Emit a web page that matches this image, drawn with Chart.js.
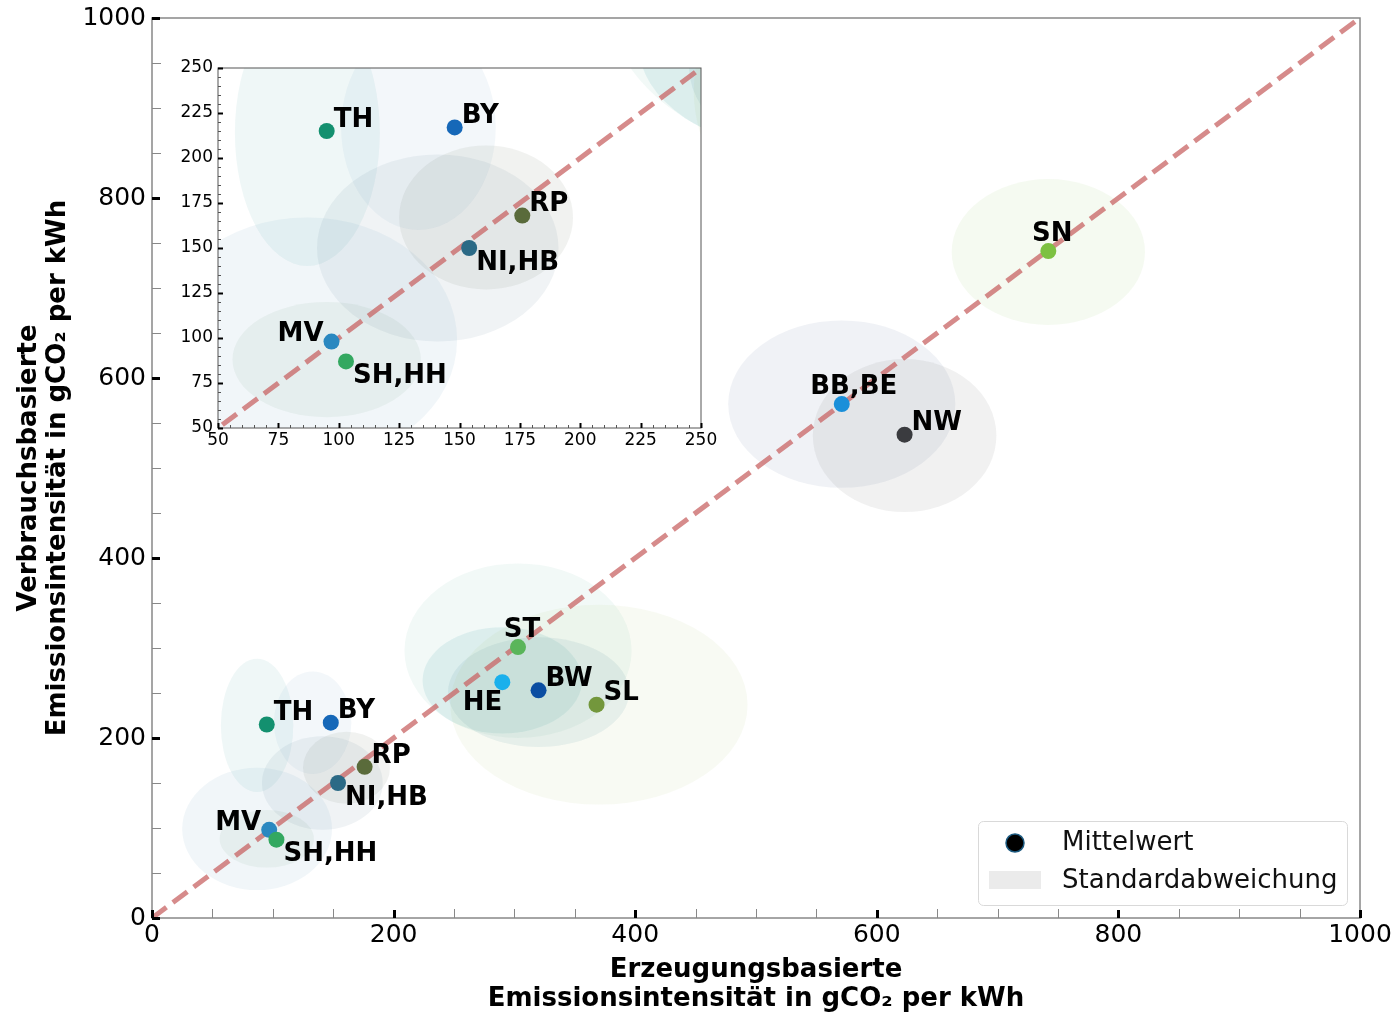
<!DOCTYPE html>
<html>
<head>
<meta charset="utf-8">
<script src="https://cdn.jsdelivr.net/npm/chart.js@4.4.1/dist/chart.umd.min.js"></script>
<style>
  html, body { margin: 0; padding: 0; background: #fff; }
  #wrap { position: relative; width: 1399px; height: 1015px; }
  #main { position: absolute; left: 0; top: 0; }
  #inset { position: absolute; left: 165px; top: 40px; }
</style>
</head>
<body>
<div id="wrap">
  <canvas id="main" width="1399" height="1015"></canvas>
  <canvas id="inset" width="575" height="420"></canvas>
</div>
<script>
// regions (Bundeslaender) and their mean intensities, gCO2 per kWh
const regions  = ['TH', 'BY', 'RP', 'NI,HB', 'MV', 'SH,HH', 'ST', 'HE', 'BW', 'SL', 'BB,BE', 'NW', 'SN'];
const prodMean = [95, 148, 176, 154, 97, 103, 303, 290, 320, 368, 571, 623, 742];
const consMean = [215, 217, 168, 150, 98, 87, 301, 262, 253, 237, 571, 537, 741];

// standard deviation ellipses: centre and half widths
const stdCenterX = [87, 133, 161, 141, 87, 95, 303, 290, 320, 370, 571, 623, 742];
const stdCenterY = [214, 217, 167, 150, 99, 88, 297, 264, 251, 237, 571, 536, 740];
const stdX = [30, 32, 36, 50, 62, 39, 94, 66, 75, 123, 94, 76, 80];
const stdY = [74, 57, 40, 52, 68, 32, 97, 59, 61, 111, 93, 85, 81];

// diagonal y = x
const diagX = [0, 1000];
const diagY = [0, 1000];

const pointColors = ['#13906f', '#1668b8', '#5a6b3b', '#2b6a86', '#2a88c0', '#33a860', '#5ab55a',
                     '#1ab0ec', '#0b4ea2', '#73973c', '#1a8fd9', '#3a3b3f', '#7dc142'];
const ellipseColors = ['rgba(30,140,140,0.07)', 'rgba(80,140,180,0.07)', 'rgba(100,110,90,0.09)',
                       'rgba(60,100,130,0.08)', 'rgba(50,130,170,0.07)', 'rgba(90,140,100,0.08)',
                       'rgba(70,170,140,0.07)', 'rgba(30,150,160,0.10)', 'rgba(40,120,140,0.09)',
                       'rgba(160,190,80,0.07)', 'rgba(90,110,150,0.09)', 'rgba(80,80,80,0.08)',
                       'rgba(130,190,80,0.08)'];

// where each label sits relative to its point: [dx, dy, align]
const labelOffsets = {
    ne: [7, -11, 'left'],
    se: [7, 15, 'left'],
    nw: [-8, -7, 'right'],
    sw: [0, 21, 'right'],
    n:  [4, -17, 'center'],
    nr: [12, -17, 'center']
};
const labelAnchor = ['ne', 'ne', 'ne', 'se', 'nw', 'se', 'n', 'sw', 'ne', 'ne', 'nr', 'ne', 'n'];

const FONT = "'DejaVu Sans', sans-serif";

function pxSize(scale, center, r) {
    return Math.abs(scale.getPixelForValue(center + r) - scale.getPixelForValue(center));
}

function clipArea(ctx, a) {
    ctx.beginPath();
    ctx.rect(a.left, a.top, a.right - a.left, a.bottom - a.top);
    ctx.clip();
}

const ellipsePlugin = {
    id: 'stdEllipses',
    beforeDatasetsDraw(chart) {
        const {ctx, chartArea, scales: {x, y}} = chart;
        ctx.save();
        clipArea(ctx, chartArea);
        regions.forEach((r, i) => {
            ctx.beginPath();
            ctx.ellipse(x.getPixelForValue(stdCenterX[i]), y.getPixelForValue(stdCenterY[i]),
                pxSize(x, stdCenterX[i], stdX[i]), pxSize(y, stdCenterY[i], stdY[i]), 0, 0, Math.PI * 2);
            ctx.fillStyle = ellipseColors[i];
            ctx.fill();
        });
        ctx.restore();
    }
};

const labelPlugin = {
    id: 'regionLabels',
    afterDatasetsDraw(chart) {
        const {ctx, chartArea, scales: {x, y}} = chart;
        ctx.save();
        clipArea(ctx, chartArea);
        ctx.font = 'bold 26px ' + FONT;
        ctx.fillStyle = '#000';
        ctx.textBaseline = 'middle';
        regions.forEach((r, i) => {
            const [dx, dy, align] = labelOffsets[labelAnchor[i]];
            ctx.textAlign = align;
            ctx.fillText(r, x.getPixelForValue(prodMean[i]) + dx, y.getPixelForValue(consMean[i]) + dy);
        });
        ctx.restore();
    }
};

// spines, inward ticks and (main chart only) the legend
function framePlugin(opt) {
    return {
        id: 'frame',
        afterDraw(chart) {
            const {ctx, chartArea: a, scales: {x, y}} = chart;
            ctx.save();
            ctx.strokeStyle = opt.spine;
            ctx.lineWidth = opt.spineWidth;
            ctx.strokeRect(a.left, a.top, a.right - a.left, a.bottom - a.top);

            const tick = (major, x1, y1, x2, y2) => {
                ctx.beginPath();
                ctx.strokeStyle = major ? '#000' : opt.minorColor;
                ctx.lineWidth = major ? opt.majorWidth : 1;
                ctx.moveTo(x1, y1);
                ctx.lineTo(x2, y2);
                ctx.stroke();
            };
            x.ticks.forEach(t => {
                const major = t.value % opt.major === 0;
                const px = Math.round(x.getPixelForValue(t.value)) + 0.5;
                tick(major, px, a.bottom, px, a.bottom - (major ? opt.majorLen : opt.minorLen));
            });
            y.ticks.forEach(t => {
                const major = t.value % opt.major === 0;
                const py = Math.round(y.getPixelForValue(t.value)) + 0.5;
                tick(major, a.left, py, a.left + (major ? opt.majorLen : opt.minorLen), py);
            });

            if (opt.legend) {
                const w = 369, h = 84;
                const lx = a.right - 13 - w, ly = a.bottom - 13 - h;
                ctx.beginPath();
                ctx.roundRect(lx + 0.5, ly + 0.5, w, h, 5);
                ctx.fillStyle = 'rgba(255,255,255,0.8)';
                ctx.fill();
                ctx.strokeStyle = '#d9d9d9';
                ctx.lineWidth = 1;
                ctx.stroke();

                ctx.beginPath();
                ctx.arc(lx + 37, ly + 22, 9, 0, Math.PI * 2);
                ctx.fillStyle = '#000';
                ctx.fill();
                ctx.strokeStyle = '#1c5a80';
                ctx.lineWidth = 1.5;
                ctx.stroke();

                ctx.fillStyle = '#ebebeb';
                ctx.fillRect(lx + 11, ly + 50, 52, 18);

                ctx.fillStyle = '#111';
                ctx.font = '26px ' + FONT;
                ctx.textAlign = 'left';
                ctx.textBaseline = 'middle';
                ctx.fillText('Mittelwert', lx + 84, ly + 22);
                ctx.fillText('Standardabweichung', lx + 84, ly + 60);
            }
            ctx.restore();
        }
    };
}

function datasets() {
    return [
        {
            label: 'Mittelwert',
            data: regions.map((r, i) => ({x: prodMean[i], y: consMean[i]})),
            pointRadius: 8,
            pointHoverRadius: 8,
            pointBackgroundColor: pointColors,
            pointBorderWidth: 0,
            order: 1
        },
        {
            label: 'diagonal',
            data: diagX.map((v, i) => ({x: v, y: diagY[i]})),
            showLine: true,
            borderColor: 'rgba(200,100,100,0.75)',
            borderWidth: 5,
            borderDash: [18, 8],
            pointRadius: 0,
            pointHoverRadius: 0,
            order: 2
        }
    ];
}

function axis(min, max, step, major, size, pad, fit) {
    return {
        type: 'linear',
        min: min,
        max: max,
        ticks: {
            stepSize: step,
            autoSkip: false,
            maxRotation: 0,
            padding: pad,
            color: '#000',
            font: {family: FONT, size: size},
            callback: v => (v % major === 0 ? v : '')
        },
        grid: {display: false, drawTicks: false},
        border: {display: false},
        afterFit: s => {
            fit(s);
            s.paddingTop = 0; s.paddingBottom = 0;
            s.paddingLeft = 0; s.paddingRight = 0;
        }
    };
}

// main chart
const mainX = axis(0, 1000, 50, 200, 25, 2, s => { s.height = 97; });
mainX.title = {
    display: true,
    text: ['Erzeugungsbasierte', 'Emissionsintensität in gCO₂ per kWh'],
    color: '#000',
    font: {family: FONT, size: 26, weight: 'bold', lineHeight: 1.12},
    padding: {top: 0, bottom: 1}
};
const mainY = axis(0, 1000, 50, 200, 25, 6, s => { s.width = 152; });
mainY.title = {
    display: true,
    text: ['Verbrauchsbasierte', 'Emissionsintensität in gCO₂ per kWh'],
    color: '#000',
    font: {family: FONT, size: 26, weight: 'bold', lineHeight: 1.12},
    padding: {top: 15, bottom: 0}
};

new Chart(document.getElementById('main'), {
    type: 'scatter',
    data: {datasets: datasets()},
    options: {
        responsive: false,
        animation: false,
        devicePixelRatio: 1,
        events: [],
        layout: {padding: {left: 0, top: 18, right: 39, bottom: 0}},
        plugins: {legend: {display: false}, tooltip: {enabled: false}},
        scales: {x: mainX, y: mainY}
    },
    plugins: [ellipsePlugin, labelPlugin,
        framePlugin({spine: '#888', spineWidth: 1.5, minorColor: '#888', major: 200,
                     majorLen: 8, minorLen: 9, majorWidth: 3, legend: true})]
});

// inset, zoom on 50..250
new Chart(document.getElementById('inset'), {
    type: 'scatter',
    data: {datasets: datasets()},
    options: {
        responsive: false,
        animation: false,
        devicePixelRatio: 1,
        events: [],
        layout: {padding: {left: 0, top: 28, right: 39, bottom: 0}},
        plugins: {legend: {display: false}, tooltip: {enabled: false}},
        scales: {
            x: axis(50, 250, 5, 25, 17, 2, s => { s.height = 32; }),
            y: axis(50, 250, 5, 25, 17, 5, s => { s.width = 53; })
        }
    },
    plugins: [ellipsePlugin, labelPlugin,
        framePlugin({spine: '#555', spineWidth: 1, minorColor: '#555', major: 25,
                     majorLen: 5, minorLen: 3, majorWidth: 2, legend: false})]
});
</script>
</body>
</html>
